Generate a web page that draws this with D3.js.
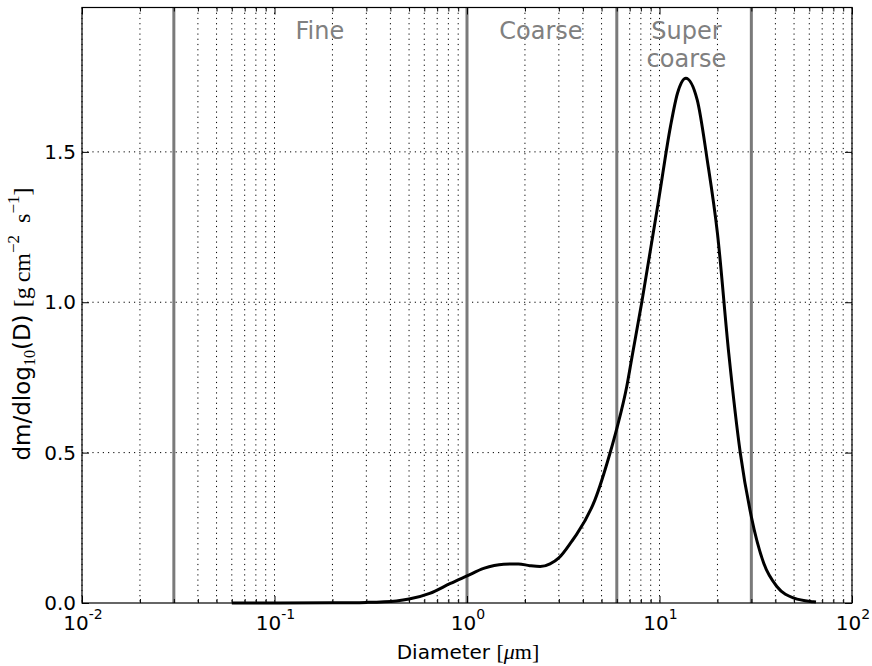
<!DOCTYPE html>
<html>
<head>
<meta charset="utf-8">
<script src="https://cdn.jsdelivr.net/npm/d3@7"></script>
<style>
  body { margin: 0; background: #fff; }
  svg { display: block; font-family: "DejaVu Sans", sans-serif; }
</style>
</head>
<body>
<svg width="872" height="666"></svg>
<script>
// Mass size distribution (diameter in um)
let diameters = [0.06, 0.1, 0.2, 0.3, 0.43, 0.5, 0.64, 0.82, 1.0, 1.22, 1.55, 1.85, 2.12,
                 2.4, 2.7, 3.0, 3.5, 3.71, 4.62, 5.53, 6.0, 6.76, 7.2, 8.09, 9.9, 11.4, 12.4,
                 13.7, 15.7, 17.7, 20, 22.9, 26.3, 30, 34.8, 40.8, 50, 63, 65];
let massValues = [0, 0, 0.0005, 0.002, 0.007, 0.013, 0.032, 0.065, 0.09, 0.115, 0.129, 0.13, 0.124,
                  0.121, 0.13, 0.15, 0.205, 0.228, 0.343, 0.498, 0.58, 0.72, 0.819, 1.0, 1.34, 1.584, 1.695,
                  1.745, 1.673, 1.473, 1.229, 0.83, 0.498, 0.287, 0.132, 0.054, 0.016, 0.004, 0.003];

// Size class boundaries and their names
let boundaries = [0.03, 1, 6, 30];
let regionNames = [["Fine"], ["Coarse"], ["Super", "coarse"]];
let regionCenters = [0.172, 2.42, 13.8];

let xMajor = [0.01, 0.1, 1, 10, 100];
let xExponents = ["-2", "-1", "0", "1", "2"];
let yTicks = [0.0, 0.5, 1.0, 1.5];
let yTickLabels = ["0.0", "0.5", "1.0", "1.5"];

let svg = d3.select("svg");
let plotLeft = 82, plotRight = 852, plotTop = 7.5, plotBottom = 603;

let x = d3.scaleLog().domain([0.01, 100]).range([plotLeft, plotRight]);
let y = d3.scaleLinear().domain([0, 1.98]).range([plotBottom, plotTop]);

// minor ticks 2..9 in every decade
let xMinor = [];
for (let i = 0; i < xMajor.length - 1; i++){
    for (let k = 2; k <= 9; k++){
        xMinor.push(xMajor[i] * k);
    }
}

/* GRID */
let grid = svg.append("g")
    .attr("stroke", "#000")
    .attr("stroke-width", 1)
    .attr("stroke-dasharray", "1.2,4");

grid.selectAll(".vx")
    .data(xMajor.concat(xMinor))
    .enter()
    .append("line")
    .attr("x1", d => x(d)).attr("x2", d => x(d))
    .attr("y1", plotTop).attr("y2", plotBottom);

grid.selectAll(".hy")
    .data(yTicks.slice(1))
    .enter()
    .append("line")
    .attr("x1", plotLeft).attr("x2", plotRight)
    .attr("y1", d => y(d)).attr("y2", d => y(d));

// boundaries between size classes
svg.append("g").selectAll("line")
    .data(boundaries)
    .enter()
    .append("line")
    .attr("x1", d => x(d)).attr("x2", d => x(d))
    .attr("y1", plotTop).attr("y2", plotBottom)
    .attr("stroke", "#7a7a7a")
    .attr("stroke-width", 3);

/* AXES - ticks point inwards on all four sides */
function styleAxis(g){
    g.select(".domain").remove();
    g.selectAll("line").attr("stroke", "#000").attr("stroke-width", 1);
    g.selectAll("text").remove();
}

svg.append("g").attr("transform", `translate(0,${plotBottom})`)
    .call(d3.axisBottom(x).tickValues(xMajor).tickSize(-7)).call(styleAxis);
svg.append("g").attr("transform", `translate(0,${plotBottom})`)
    .call(d3.axisBottom(x).tickValues(xMinor).tickSize(-4)).call(styleAxis);
svg.append("g").attr("transform", `translate(0,${plotTop})`)
    .call(d3.axisTop(x).tickValues(xMajor).tickSize(-7)).call(styleAxis);
svg.append("g").attr("transform", `translate(0,${plotTop})`)
    .call(d3.axisTop(x).tickValues(xMinor).tickSize(-4)).call(styleAxis);
svg.append("g").attr("transform", `translate(${plotLeft},0)`)
    .call(d3.axisLeft(y).tickValues(yTicks).tickSize(-7)).call(styleAxis);
svg.append("g").attr("transform", `translate(${plotRight},0)`)
    .call(d3.axisRight(y).tickValues(yTicks).tickSize(-7)).call(styleAxis);

// x tick labels as 10 with a superscript exponent
let xLabels = svg.append("g").attr("fill", "#000");
xMajor.forEach(function(v, i){
    let t = xLabels.append("text")
        .attr("x", x(v) + 1)
        .attr("y", 630)
        .attr("text-anchor", "middle")
        .attr("font-size", 20);
    t.append("tspan").text("10");
    t.append("tspan").attr("font-size", 14).attr("dy", -11).text(xExponents[i]);
});

svg.append("g").selectAll("text")
    .data(yTicks)
    .enter()
    .append("text")
    .attr("x", 76)
    .attr("y", d => y(d) + 7)
    .attr("text-anchor", "end")
    .attr("font-size", 20)
    .text((d, i) => yTickLabels[i]);

/* CURVE */
let line = d3.line()
    .x(d => x(d[0]))
    .y(d => y(d[1]))
    .curve(d3.curveMonotoneX);

svg.append("path")
    .datum(d3.zip(diameters, massValues))
    .attr("d", line)
    .attr("fill", "none")
    .attr("stroke", "#000")
    .attr("stroke-width", 3)
    .attr("stroke-linejoin", "round");

// frame
svg.append("rect")
    .attr("x", plotLeft).attr("y", plotTop)
    .attr("width", plotRight - plotLeft).attr("height", plotBottom - plotTop)
    .attr("fill", "none")
    .attr("stroke", "#000")
    .attr("stroke-width", 1.2);

/* REGION LABELS */
regionNames.forEach(function(lines, i){
    let t = svg.append("text")
        .attr("x", x(regionCenters[i]))
        .attr("y", 39)
        .attr("text-anchor", "middle")
        .attr("font-size", 24)
        .attr("fill", "#808080");
    lines.forEach(function(s, j){
        t.append("tspan")
            .attr("x", x(regionCenters[i]))
            .attr("dy", j == 0 ? 0 : 28)
            .text(s);
    });
});

/* AXIS TITLES */
let serif = "'Liberation Serif', 'DejaVu Serif', serif";

let xt = svg.append("text")
    .attr("x", 468)
    .attr("y", 659)
    .attr("text-anchor", "middle")
    .attr("font-size", 20);
xt.append("tspan").text("Diameter ");
xt.append("tspan").attr("font-family", serif).attr("font-size", 22).text("[");
xt.append("tspan").attr("font-family", serif).attr("font-size", 22).attr("font-style", "italic").text("\u03bc");
xt.append("tspan").attr("font-family", serif).attr("font-size", 22).text("m]");

let yt = svg.append("text")
    .attr("transform", "translate(30,324) rotate(-90)")
    .attr("text-anchor", "middle")
    .attr("font-size", 23);
yt.append("tspan").text("dm/dlog");
yt.append("tspan").attr("font-family", serif).attr("font-size", 16).attr("dy", 5).text("10");
yt.append("tspan").attr("dy", -5).text("(D) ");
yt.append("tspan").attr("font-family", serif).attr("font-size", 24).text("[g\u2009cm");
yt.append("tspan").attr("font-family", serif).attr("font-size", 17).attr("dy", -11).text("\u22122");
yt.append("tspan").attr("font-family", serif).attr("font-size", 24).attr("dy", 11).text("\u2002s");
yt.append("tspan").attr("font-family", serif).attr("font-size", 17).attr("dy", -11).text("\u22121");
yt.append("tspan").attr("font-family", serif).attr("font-size", 24).attr("dy", 11).text("]");
</script>
</body>
</html>
